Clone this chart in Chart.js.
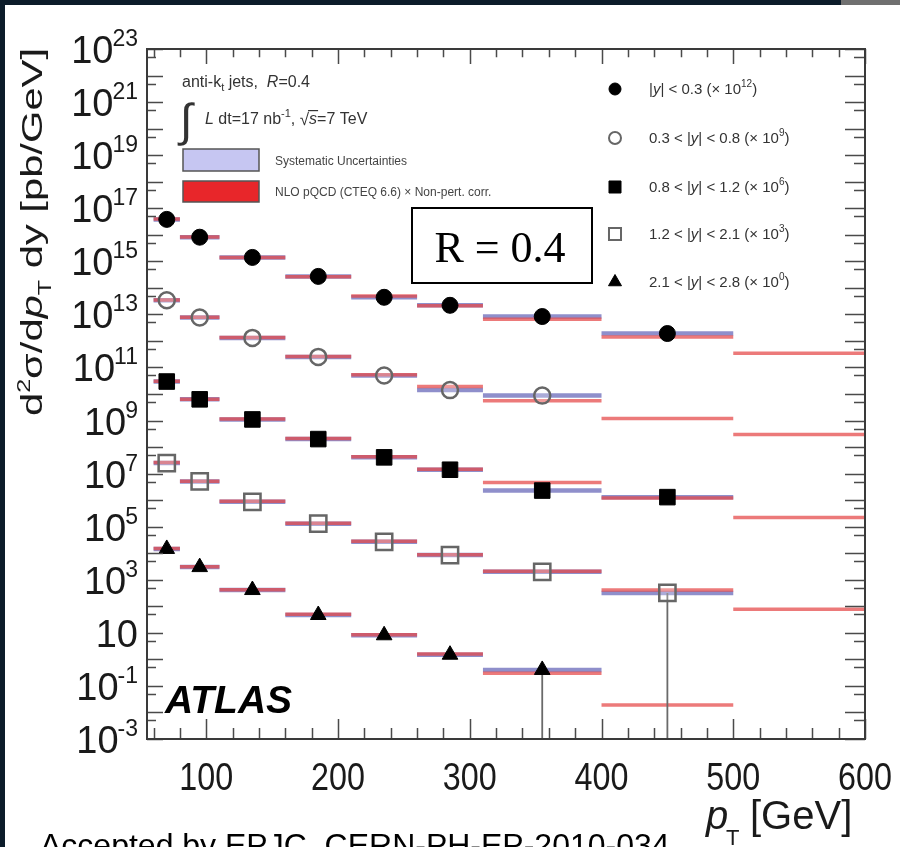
<!DOCTYPE html>
<html>
<head>
<meta charset="utf-8">
<script src="https://cdn.jsdelivr.net/npm/chart.js@4.4.1/dist/chart.umd.min.js"></script>
<style>
html,body{margin:0;padding:0;background:#fff;overflow:hidden;}
canvas{display:block;}
</style>
</head>
<body>
<canvas id="c" width="900" height="847"></canvas>
<script>
// ---------- data ----------
const binEdges = [60, 80, 110, 160, 210, 260, 310, 400, 500, 600];   // pT bins [GeV]
const pointPt  = [70, 95, 135, 185, 235, 285, 355, 450];             // marker pT [GeV]

const rapidityLow  = [null, 0.3, 0.8, 1.2, 2.1];
const rapidityHigh = [0.3, 0.8, 1.2, 2.1, 2.8];
const scaleExponents = [12, 9, 6, 3, 0];

// measured cross sections (already multiplied by the scale factor), pb/GeV
const dataY00_03 = [3.8e16, 8.1e15, 1.4e15, 2.7e14, 4.4e13, 2.2e13, 8.3e12, 1.9e12];
const dataY03_08 = [3.4e13, 7.6e12, 1.3e12, 2.5e11, 5.0e10, 1.4e10, 8.7e9, null];
const dataY08_12 = [2.95e10, 6.3e9, 1.1e9, 2.0e8, 4.1e7, 1.4e7, 2.3e6, 1.3e6];
const dataY12_21 = [2.5e7, 5.1e6, 8.7e5, 1.3e5, 2.7e4, 8.5e3, 2.0e3, 3.2e2];
const dataY21_28 = [1.45e4, 3.0e3, 4.1e2, 47, 8.1, 1.5, 0.40, null];

// NLO pQCD x non-pert. corr. per bin
const nloY00_03 = [3.9e16, 8.3e15, 1.4e15, 2.6e14, 4.9e13, 2.1e13, 6.5e12, 1.4e12, 3.4e11];
const nloY03_08 = [3.5e13, 7.8e12, 1.35e12, 2.6e11, 5.3e10, 1.9e10, 5.6e9, 1.2e9, 3.0e8];
const nloY08_12 = [3.0e10, 6.4e9, 1.15e9, 2.1e8, 4.3e7, 1.45e7, 4.6e6, 1.2e6, 2.2e5];
const nloY12_21 = [2.6e7, 5.2e6, 9.0e5, 1.35e5, 2.8e4, 8.8e3, 2.1e3, 4.1e2, 78];
const nloY21_28 = [1.5e4, 3.1e3, 4.2e2, 50, 8.5, 1.6, 0.30, 0.019, null];

// lower end of large statistical error bars (null = not drawn)
const errLowY12_21 = [null, null, null, null, null, null, null, 1e-3];
const errLowY21_28 = [null, null, null, null, null, null, 1e-3, null];

const yTickExponents = [23, 21, 19, 17, 15, 13, 11, 9, 7, 5, 3, 1, -1, -3];
const xTickValues = [100, 200, 300, 400, 500, 600];
const xMinorStep = 20;

// ---------- helpers ----------
const FONT = '"Liberation Sans", Arial, Helvetica, sans-serif';
function setFont(c, size, italic, bold) {
  c.font = (italic ? 'italic ' : '') + (bold ? 'bold ' : '') + size + 'px ' + FONT;
}
function richWidth(c, segs) {
  let w = 0;
  for (const s of segs) { setFont(c, s.size, s.i, s.b); w += c.measureText(s.t).width; }
  return w;
}
function drawRich(c, x, y, segs) {
  let cx = x;
  for (const s of segs) {
    setFont(c, s.size, s.i, s.b);
    c.fillText(s.t, cx, y + (s.dy || 0));
    cx += c.measureText(s.t).width;
  }
  return cx - x;
}

const series = [
  { data: dataY00_03, nlo: nloY00_03, low: null,        style: 'circle',   filled: true,  r: 8 },
  { data: dataY03_08, nlo: nloY03_08, low: null,        style: 'circle',   filled: false, r: 8 },
  { data: dataY08_12, nlo: nloY08_12, low: null,        style: 'rect',     filled: true,  r: 11 },
  { data: dataY12_21, nlo: nloY12_21, low: errLowY12_21, style: 'rect',    filled: false, r: 11.5 },
  { data: dataY21_28, nlo: nloY21_28, low: errLowY21_28, style: 'triangle', filled: true, r: 9 }
];

function bandPoints(values) {
  const pts = [];
  values.forEach((v, i) => {
    if (v == null) return;
    pts.push({ x: binEdges[i], y: v }, { x: binEdges[i + 1], y: v }, { x: binEdges[i + 1], y: null });
  });
  return pts;
}

const datasets = [];
series.forEach((s, k) => {
  const label = (rapidityLow[k] == null ? '' : rapidityLow[k] + ' < ') + '|y| < ' + rapidityHigh[k] + ' (× 10^' + scaleExponents[k] + ')';
  datasets.push({
    label: label + ' markers',
    data: s.data.map((v, i) => ({ x: pointPt[i], y: v })).filter(p => p.y != null),
    showLine: false,
    pointStyle: s.style,
    pointRadius: s.r,
    pointHoverRadius: s.r,
    backgroundColor: s.filled ? '#000000' : 'rgba(255,255,255,0.25)',
    borderColor: s.filled ? '#000000' : '#666666',
    borderWidth: s.filled ? 1 : 2.5,
    order: 0
  });
  if (s.low) {
    const pts = [];
    s.low.forEach((lo, i) => {
      if (lo == null || s.data[i] == null) return;
      pts.push({ x: pointPt[i], y: s.data[i] }, { x: pointPt[i], y: lo }, { x: pointPt[i], y: null });
    });
    datasets.push({
      label: label + ' stat. error',
      data: pts, showLine: true, spanGaps: false, pointRadius: 0,
      borderColor: '#6a6a6a', borderWidth: 1.8, order: 1
    });
  }
  datasets.push({
    label: label + ' NLO',
    data: bandPoints(s.nlo), showLine: true, spanGaps: false, pointRadius: 0,
    borderColor: 'rgba(228,70,70,0.72)', borderWidth: 3.5, order: 2
  });
  datasets.push({
    label: label + ' syst.',
    data: bandPoints(s.data), showLine: true, spanGaps: false, pointRadius: 0,
    borderColor: 'rgba(105,105,185,0.75)', borderWidth: 4.5, order: 3
  });
});

const decor = {
  id: 'decor',
  beforeDraw(chart) {
    const c = chart.ctx;
    c.save();
    c.fillStyle = '#ffffff';
    c.fillRect(0, 0, chart.width, chart.height);
    c.fillStyle = '#0c1c2a';
    c.fillRect(0, 0, chart.width, 5);
    c.fillRect(0, 0, 5, chart.height);
    c.fillStyle = '#707070';
    c.fillRect(841, 0, chart.width - 841, 5);
    c.restore();
  },
  afterDatasetsDraw(chart) {
    const c = chart.ctx, a = chart.chartArea, xs = chart.scales.x, ys = chart.scales.y;
    c.save();
    c.strokeStyle = '#4a4a4a';
    c.lineWidth = 1.5;
    c.beginPath();
    for (let v = binEdges[0]; v <= xs.max; v += xMinorStep) {
      const px = Math.round(xs.getPixelForValue(v)) + 0.5;
      const L = (v % 100 === 0) ? 20 : 11;
      c.moveTo(px, a.bottom); c.lineTo(px, a.bottom - L);
      c.moveTo(px, a.top); c.lineTo(px, a.top + L * 0.75);
    }
    const eMin = Math.round(Math.log10(ys.min)), eMax = Math.round(Math.log10(ys.max));
    for (let e = eMin; e <= eMax; e++) {
      const py = Math.round(ys.getPixelForValue(Math.pow(10, e))) + 0.5;
      c.moveTo(a.left, py); c.lineTo(a.left + 16, py);
      c.moveTo(a.right, py); c.lineTo(a.right - 20, py);
      if (e > eMin) {
        const ph = Math.round(ys.getPixelForValue(5 * Math.pow(10, e - 1))) + 0.5;
        c.moveTo(a.left, ph); c.lineTo(a.left + 9, ph);
        c.moveTo(a.right, ph); c.lineTo(a.right - 11, ph);
      }
    }
    c.stroke();
    c.lineWidth = 2;
    c.strokeStyle = '#3a3a3a';
    c.strokeRect(a.left, a.top, a.right - a.left, a.bottom - a.top);
    c.restore();
  },
  afterDraw(chart) {
    const c = chart.ctx, a = chart.chartArea, xs = chart.scales.x, ys = chart.scales.y;
    c.save();
    c.fillStyle = '#1a1a1a';
    c.textBaseline = 'alphabetic';
    // y tick labels
    yTickExponents.forEach(e => {
      const py = ys.getPixelForValue(Math.pow(10, e));
      const right = 138;
      setFont(c, 38);
      const wBase = c.measureText('10').width;
      if (e === 1) {
        c.textAlign = 'right';
        c.fillText('10', right, py + 14);
        c.textAlign = 'left';
        return;
      }
      const ex = e < 0 ? '-' + (-e) : String(e);
      setFont(c, 23);
      const wSup = c.measureText(ex).width;
      c.textAlign = 'left';
      setFont(c, 38);
      c.fillText('10', right - wSup - wBase + 1, py + 14);
      setFont(c, 23);
      c.fillText(ex, right - wSup, py - 3);
    });
    // x tick labels
    c.textAlign = 'center';
    xTickValues.forEach(v => {
      const px = xs.getPixelForValue(v);
      c.save();
      c.translate(px, 790);
      c.scale(0.85, 1);
      setFont(c, 38);
      c.fillText(String(v), 0, 0);
      c.restore();
    });
    c.textAlign = 'left';
    // x title
    drawRich(c, 706, 829, [{ t: 'p', size: 40, i: true }]);
    drawRich(c, 726, 845, [{ t: 'T', size: 22 }]);
    drawRich(c, 750, 829, [{ t: '[GeV]', size: 40 }]);
    // y title (rotated)
    const ySegs = [
      { t: 'd', size: 30 }, { t: '2', size: 18, dy: -12 }, { t: 'σ/d', size: 30 },
      { t: 'p', size: 30, i: true }, { t: 'T', size: 18, dy: 9 }, { t: ' dy [pb/GeV]', size: 30 }
    ];
    const yw = richWidth(c, ySegs);
    c.save();
    c.translate(42, 416);
    c.rotate(-Math.PI / 2);
    c.scale(368 / yw, 1);
    drawRich(c, 0, 0, ySegs);
    c.restore();

    // top-left legend
    c.fillStyle = '#333333';
    drawRich(c, 182, 87, [
      { t: 'anti-k', size: 16 }, { t: 't', size: 11, dy: 4 }, { t: ' jets,  ', size: 16 },
      { t: 'R', size: 16, i: true }, { t: '=0.4', size: 16 }
    ]);
    setFont(c, 46);
    c.fillText('∫', 180, 136);
    let w = drawRich(c, 205, 124, [
      { t: 'L', size: 16, i: true }, { t: ' dt=17 nb', size: 16 }, { t: '-1', size: 11, dy: -7 },
      { t: ', ', size: 16 }
    ]);
    let sx = 205 + w;
    setFont(c, 17);
    c.fillText('√', sx, 125);
    const sqW = c.measureText('√').width;
    const sw = drawRich(c, sx + sqW, 124, [{ t: 's', size: 16, i: true }]);
    c.fillRect(sx + sqW - 1, 110, sw + 2, 1.2);
    drawRich(c, sx + sqW + sw, 124, [{ t: '=7 TeV', size: 16 }]);

    c.lineWidth = 1.5;
    c.strokeStyle = '#555555';
    c.fillStyle = '#c6c6f2';
    c.fillRect(183, 149, 76, 22); c.strokeRect(183, 149, 76, 22);
    c.fillStyle = '#e8262a';
    c.fillRect(183, 181, 76, 21); c.strokeRect(183, 181, 76, 21);
    c.fillStyle = '#444444';
    setFont(c, 12);
    c.fillText('Systematic Uncertainties', 275, 165);
    c.fillText('NLO pQCD (CTEQ 6.6) × Non-pert. corr.', 275, 196);

    // right legend
    const rowY = [89, 138, 187, 234, 282];
    series.forEach((s, k) => {
      const ry = rowY[k];
      c.save();
      c.fillStyle = s.filled ? '#000000' : '#ffffff';
      c.strokeStyle = s.filled ? '#000000' : '#666666';
      c.lineWidth = s.filled ? 1 : 2;
      Chart.helpers.drawPoint(c, { pointStyle: s.style, radius: s.style === 'rect' ? 8.5 : (s.style === 'triangle' ? 7.5 : 6), rotation: 0, borderWidth: c.lineWidth }, 615, ry);
      c.restore();
      const segs = [];
      if (rapidityLow[k] != null) segs.push({ t: rapidityLow[k] + ' < ', size: 15 });
      segs.push({ t: '|', size: 15 }, { t: 'y', size: 15, i: true }, { t: '| < ' + rapidityHigh[k] + ' (× 10', size: 15 },
        { t: String(scaleExponents[k]), size: 10, dy: -7 }, { t: ')', size: 15 });
      c.fillStyle = '#333333';
      drawRich(c, 649, ry + 5, segs);
    });

    // R = 0.4 box
    c.fillStyle = '#ffffff';
    c.fillRect(412, 208, 180, 75);
    c.lineWidth = 2;
    c.strokeStyle = '#000000';
    c.strokeRect(412, 208, 180, 75);
    c.fillStyle = '#000000';
    c.font = '44px "Liberation Serif", "Times New Roman", serif';
    c.textAlign = 'center';
    c.fillText('R = 0.4', 500, 262);
    c.textAlign = 'left';

    // ATLAS
    c.fillStyle = '#000000';
    setFont(c, 39, true, true);
    c.fillText('ATLAS', 165, 713);

    // bottom note (cut by the page edge)
    c.fillStyle = '#000000';
    setFont(c, 32);
    c.fillText('Accepted by EPJC, CERN-PH-EP-2010-034', 40, 856);
    c.restore();
  }
};

new Chart(document.getElementById('c'), {
  type: 'scatter',
  data: { datasets },
  options: {
    responsive: false,
    animation: false,
    devicePixelRatio: 1,
    layout: { padding: { left: 0, right: 35, top: 49, bottom: 0 } },
    plugins: { legend: { display: false }, tooltip: { enabled: false } },
    scales: {
      x: {
        type: 'linear', min: 55, max: 600,
        grid: { display: false }, border: { display: false },
        ticks: { display: false },
        afterFit(s) { s.height = 108; }
      },
      y: {
        type: 'logarithmic', min: 1e-3, max: 1e23,
        grid: { display: false }, border: { display: false },
        ticks: { display: false },
        afterFit(s) { s.width = 147; }
      }
    }
  },
  plugins: [decor]
});
</script>
</body>
</html>
